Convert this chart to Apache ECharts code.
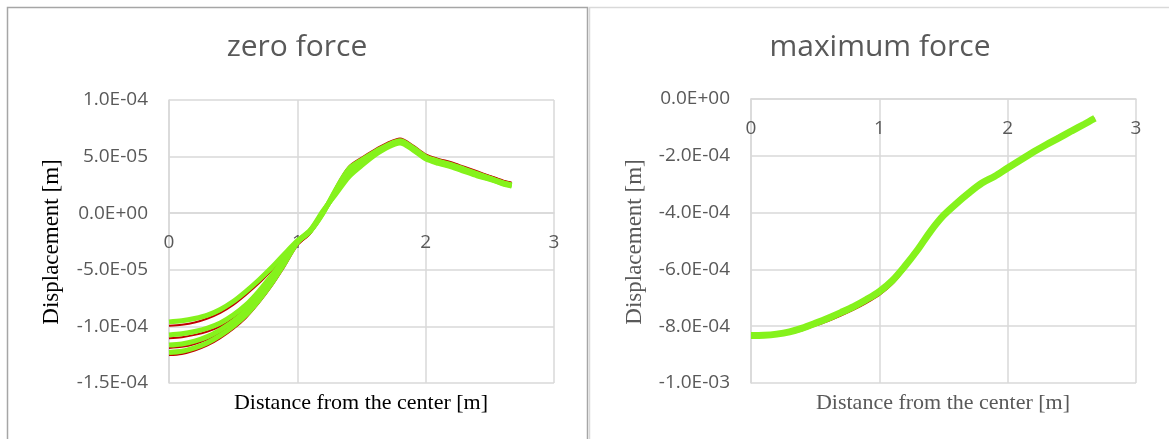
<!DOCTYPE html>
<html>
<head>
<meta charset="utf-8">
<script src="https://cdn.jsdelivr.net/npm/echarts@6/dist/echarts.min.js"></script>
<style>
  html, body { margin: 0; padding: 0; background: #fff; }
  #content { width: 1169px; height: 439px; }
</style>
</head>
<body>
<div id="content"></div>
<script>
// 左图 zero force，单位 1e-5 m
var xLeft = [0, 0.1, 0.2, 0.3, 0.4, 0.5, 0.6, 0.7, 0.8, 0.9, 1.0, 1.1, 1.2, 1.3, 1.4, 1.5, 1.6, 1.7, 1.8, 1.9, 2.0, 2.1, 2.2, 2.3, 2.4, 2.5, 2.6, 2.67];
var red1 = [-9.95, -9.85, -9.65, -9.3, -8.8, -8.1, -7.2, -6.2, -5.05, -3.85, -2.65, -1.7, 0.1, 1.9, 3.4, 4.4, 5.3, 6.0, 6.4, 5.8, 5.0, 4.6, 4.3, 3.9, 3.5, 3.2, 2.8, 2.6];
var red2 = [-11.05, -10.95, -10.75, -10.45, -10.0, -9.3, -8.4, -7.2, -5.8, -4.3, -2.75, -1.75, 0.0, 2.05, 3.65, 4.55, 5.4, 6.07, 6.47, 5.87, 5.07, 4.67, 4.37, 3.97, 3.57, 3.23, 2.83, 2.63];
var red3 = [-11.9, -11.8, -11.55, -11.15, -10.55, -9.8, -8.85, -7.6, -6.15, -4.5, -2.8, -1.78, -0.05, 2.17, 3.85, 4.72, 5.5, 6.13, 6.53, 5.93, 5.13, 4.73, 4.43, 4.03, 3.63, 3.27, 2.87, 2.67];
var red4 = [-12.53, -12.43, -12.13, -11.68, -11.03, -10.23, -9.23, -7.93, -6.43, -4.7, -2.85, -1.8, -0.1, 2.3, 4.1, 4.9, 5.6, 6.2, 6.6, 6.0, 5.2, 4.8, 4.5, 4.1, 3.7, 3.3, 2.9, 2.7];
var green1 = [-9.6, -9.5, -9.3, -9.0, -8.5, -7.8, -6.9, -5.9, -4.8, -3.6, -2.45, -1.5, 0.2, 1.7, 3.2, 4.2, 5.1, 5.8, 6.2, 5.6, 4.8, 4.4, 4.1, 3.7, 3.3, 3.0, 2.6, 2.4];
var green2 = [-10.75, -10.65, -10.45, -10.15, -9.7, -9.0, -8.1, -6.9, -5.5, -4.05, -2.5, -1.55, 0.1, 1.85, 3.45, 4.35, 5.2, 5.87, 6.27, 5.67, 4.87, 4.47, 4.17, 3.77, 3.37, 3.03, 2.63, 2.43];
var green3 = [-11.65, -11.55, -11.3, -10.9, -10.3, -9.55, -8.6, -7.35, -5.9, -4.25, -2.55, -1.58, 0.05, 1.97, 3.65, 4.52, 5.3, 5.93, 6.33, 5.73, 4.93, 4.53, 4.23, 3.83, 3.43, 3.07, 2.67, 2.47];
var green4 = [-12.3, -12.2, -11.9, -11.45, -10.8, -10.0, -9.0, -7.7, -6.2, -4.45, -2.6, -1.6, 0.0, 2.1, 3.9, 4.7, 5.4, 6.0, 6.4, 5.8, 5.0, 4.6, 4.3, 3.9, 3.5, 3.1, 2.7, 2.5];

// 右图 maximum force，单位 1e-4 m
var xRight = [0, 0.1, 0.2, 0.3, 0.4, 0.5, 0.6, 0.7, 0.8, 0.9, 1.0, 1.1, 1.2, 1.3, 1.4, 1.5, 1.6, 1.7, 1.8, 1.9, 2.0, 2.1, 2.2, 2.3, 2.4, 2.5, 2.6, 2.68];
var redRight = [-8.36, -8.36, -8.33, -8.26, -8.14, -7.98, -7.82, -7.63, -7.42, -7.18, -6.9, -6.52, -5.98, -5.36, -4.67, -4.1, -3.6, -3.22, -2.9, -2.68, -2.43, -2.15, -1.87, -1.61, -1.37, -1.12, -0.88, -0.68];
var greenRight = [-8.33, -8.32, -8.28, -8.2, -8.07, -7.9, -7.72, -7.52, -7.31, -7.06, -6.78, -6.4, -5.88, -5.3, -4.65, -4.1, -3.68, -3.3, -2.96, -2.72, -2.43, -2.15, -1.87, -1.61, -1.37, -1.12, -0.88, -0.68];

var xTicks = [0, 1, 2, 3];
var yTicksLeft = [-1.5e-4, 1e-4, 5e-5];   // min, max, interval
var yTicksRight = [-1e-3, 0, 2e-4];

var RED = "#c00000";
var GREEN = "#85f21c";
var GRID = "#d9d9d9";
var LABEL = "#595959";

function toPairs(xs, vals, unit) {
    var out = [];
    for (var i = 0; i < xs.length; i++) {
        out.push([xs[i], vals[i] * unit]);
    }
    return out;
}

// 1.0E-04 这种格式
function sci(v) {
    v = Math.round(v * 1e9) / 1e9;
    var s = v.toExponential(1).toUpperCase();
    return s.replace(/E([+-])(\d+)$/, function (m, sign, d) {
        return "E" + sign + (d.length < 2 ? "0" + d : d);
    });
}

function lineSeries(idx, xs, vals, unit, color, width) {
    return {
        type: "line",
        xAxisIndex: idx,
        yAxisIndex: idx,
        data: toPairs(xs, vals, unit),
        showSymbol: false,
        smooth: 0.3,
        lineStyle: { color: color, width: width },
        itemStyle: { color: color },
        silent: true
    };
}

// x轴放到 y=0 的位置（offset 为负，往上挪）
function xAxisCfg(idx, offset) {
    return {
        gridIndex: idx,
        type: "value",
        position: "bottom",
        offset: offset,
        min: xTicks[0],
        max: xTicks[xTicks.length - 1],
        interval: 1,
        axisLine: { show: true, onZero: false, lineStyle: { color: GRID, width: 1.5 } },
        axisTick: { show: false },
        axisLabel: { margin: 20, color: LABEL, fontSize: 19, fontFamily: "Open Sans" },
        splitLine: { show: true, lineStyle: { color: GRID, width: 1.5 } }
    };
}

function yAxisCfg(idx, t) {
    return {
        gridIndex: idx,
        type: "value",
        min: t[0],
        max: t[1],
        interval: t[2],
        axisLine: { show: true, onZero: false, lineStyle: { color: GRID, width: 1.5 } },
        axisTick: { show: false },
        axisLabel: { margin: 21, color: LABEL, fontSize: 19, fontFamily: "Open Sans", formatter: sci },
        splitLine: { show: true, lineStyle: { color: GRID, width: 1.5 } }
    };
}

var myChart = echarts.init(document.getElementById("content"), null, { renderer: "canvas" });

var series = [
    lineSeries(0, xLeft, red1, 1e-5, RED, 2),
    lineSeries(0, xLeft, red2, 1e-5, RED, 2),
    lineSeries(0, xLeft, red3, 1e-5, RED, 2),
    lineSeries(0, xLeft, red4, 1e-5, RED, 2),
    lineSeries(0, xLeft, green1, 1e-5, GREEN, 5),
    lineSeries(0, xLeft, green2, 1e-5, GREEN, 5),
    lineSeries(0, xLeft, green3, 1e-5, GREEN, 5),
    lineSeries(0, xLeft, green4, 1e-5, GREEN, 5),
    lineSeries(1, xRight, redRight, 1e-4, RED, 2),
    lineSeries(1, xRight, greenRight, 1e-4, GREEN, 7)
];

myChart.setOption({
    backgroundColor: "#ffffff",
    animation: false,
    grid: [
        { left: 169, top: 100, width: 385, height: 283, containLabel: false, outerBoundsMode: "none" },
        { left: 751, top: 99, width: 385, height: 284, containLabel: false, outerBoundsMode: "none" }
    ],
    xAxis: [xAxisCfg(0, -169.8), xAxisCfg(1, -284)],
    yAxis: [yAxisCfg(0, yTicksLeft), yAxisCfg(1, yTicksRight)],
    series: series,
    graphic: [
        // 两个面板的边框
        { type: "rect", shape: { x: 7.5, y: 7.5, width: 580, height: 440 }, style: { fill: null, stroke: "#a6a6a6", lineWidth: 1.5 }, silent: true },
        { type: "rect", shape: { x: 589.5, y: 7.5, width: 590, height: 440 }, style: { fill: null, stroke: GRID, lineWidth: 1.5 }, silent: true },
        // 标题
        { type: "text", x: 297, y: 47, style: { text: "zero force", font: "30px 'Open Sans'", fill: LABEL, align: "center", verticalAlign: "middle" } },
        { type: "text", x: 880, y: 47, style: { text: "maximum force", font: "30px 'Open Sans'", fill: LABEL, align: "center", verticalAlign: "middle" } },
        // 坐标轴名称
        { type: "text", x: 361, y: 403, style: { text: "Distance from the center [m]", font: "22px 'Liberation Serif'", fill: "#000", align: "center", verticalAlign: "middle" } },
        { type: "text", x: 943, y: 403, style: { text: "Distance from the center [m]", font: "22px 'Liberation Serif'", fill: LABEL, align: "center", verticalAlign: "middle" } },
        { type: "text", x: 52, y: 242, rotation: Math.PI / 2, style: { text: "Displacement [m]", font: "23px 'Liberation Serif'", fill: "#000", align: "center", verticalAlign: "middle" } },
        { type: "text", x: 635, y: 242, rotation: Math.PI / 2, style: { text: "Displacement [m]", font: "23px 'Liberation Serif'", fill: LABEL, align: "center", verticalAlign: "middle" } }
    ]
});
</script>
</body>
</html>
